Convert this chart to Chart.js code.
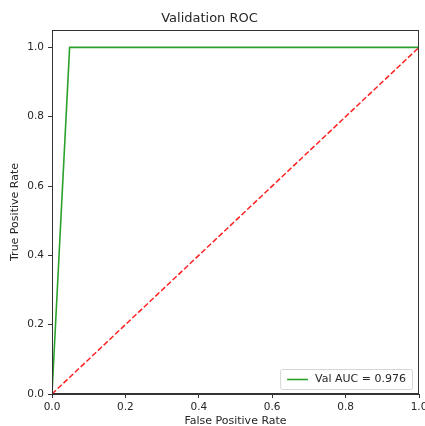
<!DOCTYPE html>
<html>
<head>
<meta charset="utf-8">
<script src="https://cdn.jsdelivr.net/npm/chart.js@4"></script>
<style>
  html, body { margin: 0; padding: 0; background: #fff; }
  #wrap { width: 425px; height: 426px; }
</style>
</head>
<body>
<div id="wrap"><canvas id="c" width="425" height="426"></canvas></div>
<script>
const fpr = [0, 0.048, 1];
const tpr = [0, 1, 1];
const chanceX = [0, 1];
const chanceY = [0, 1];
const xTicks = [0, 0.2, 0.4, 0.6, 0.8, 1.0];
const yTicks = [0, 0.2, 0.4, 0.6, 0.8, 1.0];
const rocLabel = 'Val AUC = 0.976';
const chartTitle = 'Validation ROC';
const xTitle = 'False Positive Rate';
const yTitle = 'True Positive Rate';

const FONT = "'DejaVu Sans', sans-serif";
const INK = '#262626';
const AXIS = '#333333';

const framePlugin = {
  id: 'frame',
  afterDatasetsDraw(chart) {
    const {ctx, chartArea: a} = chart;
    ctx.save();
    ctx.strokeStyle = AXIS;
    ctx.lineWidth = 1;
    ctx.strokeRect(Math.round(a.left) + 0.5, Math.round(a.top) + 0.5,
                   Math.round(a.right - a.left) - 1, Math.round(a.bottom - a.top) - 1);
    ctx.restore();
  }
};

const legendPlugin = {
  id: 'innerLegend',
  afterDraw(chart) {
    const {ctx, chartArea: a} = chart;
    const ds = chart.data.datasets.filter(d => d.showInLegend);
    ctx.save();
    ctx.font = '11px ' + FONT;
    const lineH = 20;
    let maxW = 0;
    ds.forEach(d => { maxW = Math.max(maxW, ctx.measureText(d.label).width); });
    const w = 35 + maxW + 6;
    const h = lineH * ds.length;
    const x = a.right - 7 - w;
    const y = a.bottom - 5 - h;
    ctx.globalAlpha = 0.8;
    ctx.fillStyle = '#ffffff';
    ctx.strokeStyle = '#cccccc';
    ctx.lineWidth = 1;
    ctx.beginPath();
    ctx.roundRect(x + 0.5, y + 0.5, w, h, 2);
    ctx.fill();
    ctx.stroke();
    ctx.globalAlpha = 1;
    ds.forEach((d, i) => {
      const cy = y + lineH * i + lineH / 2 + 0.5;
      ctx.strokeStyle = d.borderColor;
      ctx.lineWidth = d.borderWidth;
      ctx.setLineDash(d.borderDash || []);
      ctx.beginPath();
      ctx.moveTo(x + 7, cy);
      ctx.lineTo(x + 28, cy);
      ctx.stroke();
      ctx.setLineDash([]);
      ctx.fillStyle = INK;
      ctx.textBaseline = 'middle';
      ctx.textAlign = 'left';
      ctx.fillText(d.label, x + 35, cy);
    });
    ctx.restore();
  }
};

new Chart(document.getElementById('c'), {
  type: 'scatter',
  data: {
    datasets: [
      {
        label: rocLabel,
        data: fpr.map((v, i) => ({x: v, y: tpr[i]})),
        showLine: true,
        borderColor: '#2ca02c',
        backgroundColor: '#2ca02c',
        borderWidth: 1.6,
        pointRadius: 0,
        tension: 0,
        showInLegend: true,
        order: 1
      },
      {
        label: 'chance',
        data: chanceX.map((v, i) => ({x: v, y: chanceY[i]})),
        showLine: true,
        borderColor: '#ff2020',
        backgroundColor: '#ff2020',
        borderWidth: 1.5,
        borderDash: [5.5, 2.4],
        pointRadius: 0,
        tension: 0,
        showInLegend: false,
        order: 0
      }
    ]
  },
  options: {
    responsive: false,
    animation: false,
    events: [],
    layout: { padding: { left: 0, right: 6, top: 0, bottom: 0 }, autoPadding: false },
    plugins: {
      legend: { display: false },
      tooltip: { enabled: false },
      title: {
        display: true,
        text: chartTitle,
        color: INK,
        font: { family: FONT, size: 13, weight: 'normal', lineHeight: 1.2 },
        padding: { top: 11, bottom: 3.4 }
      }
    },
    scales: {
      x: {
        type: 'linear',
        min: 0, max: 1,
        afterBuildTicks(s) { s.ticks = xTicks.map(v => ({value: v})); },
        afterFit(s) { s.height = 32; s.paddingRight = 0; s.paddingLeft = 0; },
        ticks: {
          color: INK,
          font: { family: FONT, size: 10.5 },
          padding: 3,
          maxRotation: 0,
          autoSkip: false,
          callback: v => Number(v).toFixed(1)
        },
        grid: { drawOnChartArea: false, drawTicks: true, tickLength: 4, color: AXIS, tickWidth: 1 },
        border: { display: true, color: AXIS, width: 1 },
        title: {
          display: true, text: xTitle, color: INK,
          font: { family: FONT, size: 11, lineHeight: 1.2 },
          padding: { top: 0, bottom: -1.5 }
        }
      },
      y: {
        type: 'linear',
        min: 0, max: 1.05,
        afterBuildTicks(s) { s.ticks = yTicks.map(v => ({value: v})); },
        afterFit(s) { s.width = 52; s.paddingTop = 0; s.paddingBottom = 0; },
        ticks: {
          color: INK,
          font: { family: FONT, size: 10.5 },
          padding: 4,
          autoSkip: false,
          callback: v => Number(v).toFixed(1)
        },
        grid: { drawOnChartArea: false, drawTicks: true, tickLength: 4, color: AXIS, tickWidth: 1 },
        border: { display: true, color: AXIS, width: 1 },
        title: {
          display: true, text: yTitle, color: INK,
          font: { family: FONT, size: 11, lineHeight: 1.2 },
          padding: { top: 9, bottom: 0 }
        }
      }
    }
  },
  plugins: [framePlugin, legendPlugin]
});
</script>
</body>
</html>
